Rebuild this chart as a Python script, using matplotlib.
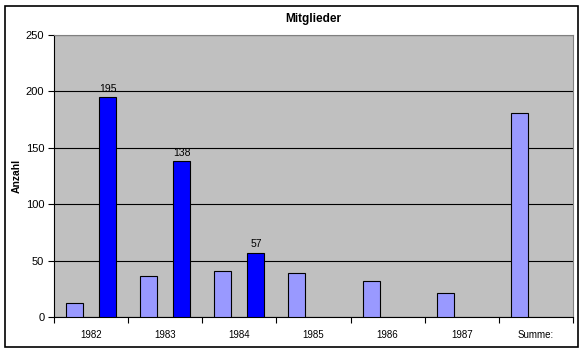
import matplotlib.pyplot as plt
from matplotlib.patches import Rectangle
import numpy as np

plt.rcParams['font.family'] = ['Liberation Sans', 'DejaVu Sans']

# Daten
kategorien = ["1982", "1983", "1984", "1985", "1986", "1987", "Summe:"]
hell = [12, 36, 41, 39, 32, 21, 181]
dunkel = [195, 138, 57]

fig = plt.figure(figsize=(5.83, 3.53), dpi=100)
ax = fig.add_axes([54/583, 36/353, 519/583, 282/353])

x = np.arange(len(kategorien))
breite = 0.23
versatz = 0.223

ax.set_facecolor("#C0C0C0")
ax.bar(x - versatz, hell, width=breite, color="#9999FF", edgecolor="black", linewidth=0.8, zorder=3)
bars = ax.bar(x[:len(dunkel)] + versatz, dunkel, width=breite, color="#0000FF",
              edgecolor="black", linewidth=0.8, zorder=3)
for b, v in zip(bars, dunkel):
    ax.text(b.get_x() + b.get_width()/2, v + 3, str(v), ha="center", va="bottom", fontsize=7.5)

ax.set_xlim(-0.5, len(kategorien) - 0.5)
ax.set_ylim(0, 250)
ax.set_yticks(np.arange(0, 251, 50))
ax.yaxis.grid(True, color="black", linewidth=0.8, zorder=1)

# x-Ticks an den Gruppengrenzen, Beschriftung in der Mitte
ax.set_xticks(np.arange(-0.5, len(kategorien)), minor=False)
ax.set_xticklabels([])
ax.set_xticks(x, minor=True)
ax.set_xticklabels(kategorien, minor=True)
ax.tick_params(axis="x", which="minor", length=0, labelsize=7, pad=9)
ax.tick_params(axis="x", which="major", length=4, direction="out", width=0.8)
ax.tick_params(axis="y", length=4, direction="out", width=0.8, labelsize=8, pad=3)

ax.spines["top"].set_color("#808080")
ax.spines["right"].set_color("#808080")
ax.spines["left"].set_linewidth(0.8)
ax.spines["bottom"].set_linewidth(0.8)

ax.set_ylabel("Anzahl", fontsize=7.5, fontweight="bold")
ax.yaxis.set_label_coords(-0.062, 0.5)
fig.text(0.5 * (54 + 573) / 583, 1 - 19/353, "Mitglieder", ha="center", va="center",
         fontsize=8.5, fontweight="bold")

# Rahmen um das Diagramm
fig.patches.append(Rectangle((5/583, 6/353), 573/583, 341/353, transform=fig.transFigure,
                             fill=False, edgecolor="black", linewidth=1.2))

fig.savefig("out.png", dpi=100)
